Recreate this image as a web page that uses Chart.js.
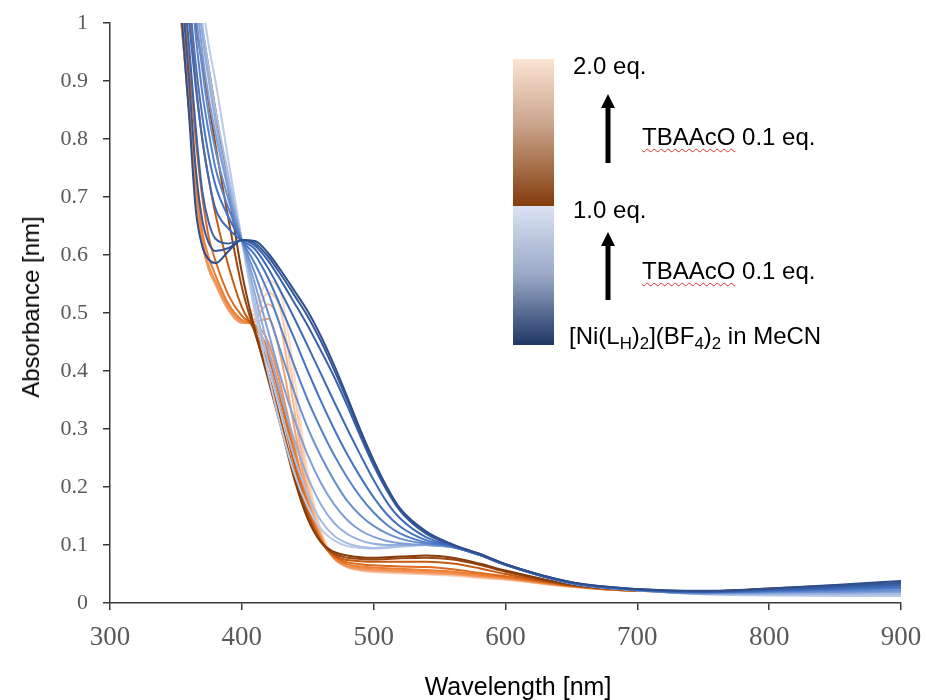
<!DOCTYPE html>
<html>
<head>
<meta charset="utf-8">
<script src="https://cdn.jsdelivr.net/npm/chart.js@4.4.0/dist/chart.umd.min.js"></script>
<style>
  body { margin: 0; background: #fff; }
  #wrap { position: relative; width: 926px; height: 700px; }
  #wrap canvas { position: absolute; left: 0; top: 0; }
  .bar { position: absolute; left: 513px; width: 41px; }
  .key { position: absolute; font-family: "Liberation Sans", Arial, sans-serif; font-size: 24px;
         color: #000; white-space: nowrap; line-height: 1; transform: translateY(-50%); }
  .spell { text-decoration: underline wavy #e03030; text-decoration-thickness: 1px; text-underline-offset: 3px; }
  sub { font-size: 0.7em; vertical-align: -0.3em; line-height: 0; }
  .axis-title { position: absolute; font-family: "Liberation Sans", Arial, sans-serif; font-size: 25px;
                color: #000; white-space: nowrap; line-height: 1; }
  #xTitle { left: 518px; top: 686px; transform: translate(-50%, -50%); }
  #yTitle { left: 31px; top: 307px; font-size: 24px; transform: translate(-50%, -50%) rotate(-90deg); }
  svg.arrows { position: absolute; left: 0; top: 0; }
</style>
</head>
<body>
<div id="wrap">
  <canvas id="uvChart" width="926" height="700"></canvas>

  <div class="axis-title" id="xTitle">Wavelength [nm]</div>
  <div class="axis-title" id="yTitle">Absorbance [nm]</div>

  <div class="bar" style="top:59px;height:147px;background:linear-gradient(to bottom,#fbe3d3,#c9a48a 45%,#843c0c);"></div>
  <div class="bar" style="top:206px;height:139px;background:linear-gradient(to bottom,#dae3f3,#9aa8c6 50%,#1f3864);"></div>

  <div class="key" style="left:573px;top:66px;">2.0 eq.</div>
  <div class="key" style="left:642px;top:137px;"><span class="spell">TBAAcO</span> 0.1 eq.</div>
  <div class="key" style="left:573px;top:210px;">1.0 eq.</div>
  <div class="key" style="left:642px;top:271px;"><span class="spell">TBAAcO</span> 0.1 eq.</div>
  <div class="key" style="left:569px;top:336px;">[Ni(L<sub>H</sub>)<sub>2</sub>](BF<sub>4</sub>)<sub>2</sub> in MeCN</div>

  <svg class="arrows" width="926" height="700">
    <polygon points="605.5,163 610.5,163 610.5,108 615,108 608,94 601,108 605.5,108" fill="#000"/>
    <polygon points="605.5,300 610.5,300 610.5,246 615,246 608,232 601,246 605.5,246" fill="#000"/>
  </svg>
</div>

<script>
// wavelength grid (nm)
var wavelengths = [340, 350, 355, 360, 365, 370, 375, 380, 390, 400, 410, 420, 430, 440, 450, 460,
                   470, 480, 490, 500, 510, 520, 540, 560, 580, 600, 650, 700, 750, 800, 850, 900];

var xTicks = [300, 400, 500, 600, 700, 800, 900];
var yTicks = [0, 0.1, 0.2, 0.3, 0.4, 0.5, 0.6, 0.7, 0.8, 0.9, 1];

// [Ni(LH)2](BF4)2 + 0.0 ... 1.0 eq. TBAAcO
var blue00 = [1.6, 1.12, 0.99, 0.84, 0.68, 0.615, 0.592, 0.586, 0.607, 0.626, 0.624, 0.603, 0.572, 0.538, 0.503, 0.46, 0.41, 0.355, 0.298, 0.246, 0.2, 0.163, 0.123, 0.101, 0.085, 0.067, 0.036, 0.024, 0.021, 0.025, 0.031, 0.038];
var blue01 = [1.65, 1.17, 1.04, 0.9, 0.75, 0.66, 0.62, 0.607, 0.612, 0.626, 0.62, 0.597, 0.565, 0.53, 0.494, 0.451, 0.402, 0.349, 0.293, 0.242, 0.197, 0.161, 0.121, 0.1, 0.085, 0.067, 0.036, 0.024, 0.02, 0.024, 0.029, 0.035];
var blue02 = [1.7, 1.22, 1.08, 0.96, 0.82, 0.71, 0.655, 0.628, 0.62, 0.626, 0.616, 0.59, 0.555, 0.517, 0.478, 0.435, 0.39, 0.34, 0.287, 0.237, 0.194, 0.159, 0.119, 0.099, 0.084, 0.066, 0.035, 0.023, 0.02, 0.023, 0.027, 0.032];
var blue03 = [1.75, 1.27, 1.13, 1.0, 0.89, 0.8, 0.73, 0.68, 0.645, 0.625, 0.61, 0.577, 0.535, 0.49, 0.443, 0.395, 0.347, 0.3, 0.255, 0.212, 0.174, 0.146, 0.113, 0.098, 0.084, 0.066, 0.035, 0.023, 0.019, 0.022, 0.025, 0.03];
var blue04 = [1.8, 1.32, 1.18, 1.05, 0.93, 0.84, 0.77, 0.72, 0.665, 0.625, 0.6, 0.56, 0.508, 0.455, 0.4, 0.348, 0.3, 0.256, 0.217, 0.182, 0.153, 0.132, 0.108, 0.097, 0.083, 0.066, 0.035, 0.023, 0.019, 0.021, 0.024, 0.027];
var blue05 = [1.85, 1.37, 1.23, 1.1, 0.98, 0.88, 0.81, 0.75, 0.68, 0.625, 0.585, 0.535, 0.472, 0.408, 0.35, 0.3, 0.255, 0.216, 0.183, 0.156, 0.135, 0.12, 0.104, 0.097, 0.083, 0.066, 0.034, 0.022, 0.018, 0.02, 0.022, 0.025];
var blue06 = [1.9, 1.42, 1.28, 1.15, 1.02, 0.92, 0.84, 0.78, 0.695, 0.625, 0.568, 0.5, 0.43, 0.362, 0.302, 0.253, 0.211, 0.176, 0.151, 0.133, 0.12, 0.111, 0.102, 0.097, 0.083, 0.066, 0.034, 0.022, 0.017, 0.019, 0.02, 0.022];
var blue07 = [1.95, 1.47, 1.33, 1.2, 1.06, 0.95, 0.87, 0.81, 0.71, 0.625, 0.55, 0.468, 0.385, 0.315, 0.255, 0.207, 0.17, 0.143, 0.125, 0.114, 0.107, 0.103, 0.1, 0.096, 0.083, 0.066, 0.034, 0.022, 0.017, 0.018, 0.019, 0.02];
var blue08 = [2.0, 1.5, 1.36, 1.23, 1.09, 0.98, 0.9, 0.83, 0.72, 0.625, 0.532, 0.44, 0.355, 0.28, 0.217, 0.17, 0.138, 0.119, 0.108, 0.102, 0.1, 0.1, 0.1, 0.096, 0.083, 0.066, 0.034, 0.022, 0.016, 0.016, 0.017, 0.018];
var blue09 = [2.05, 1.54, 1.4, 1.27, 1.12, 1.0, 0.92, 0.85, 0.735, 0.625, 0.515, 0.415, 0.328, 0.25, 0.187, 0.142, 0.116, 0.103, 0.097, 0.095, 0.096, 0.098, 0.1, 0.096, 0.083, 0.066, 0.034, 0.022, 0.016, 0.015, 0.015, 0.015];
var blue10 = [2.1, 1.57, 1.43, 1.3, 1.15, 1.04, 0.96, 0.9, 0.76, 0.625, 0.5, 0.395, 0.3, 0.222, 0.166, 0.128, 0.108, 0.098, 0.095, 0.094, 0.095, 0.097, 0.1, 0.096, 0.083, 0.066, 0.034, 0.022, 0.015, 0.013, 0.012, 0.012];

// further additions 1.1 ... 2.0 eq. TBAAcO
var orange11 = [1.9, 1.4, 1.27, 1.15, 1.06, 0.99, 0.92, 0.85, 0.71, 0.57, 0.47, 0.385, 0.3, 0.212, 0.145, 0.105, 0.088, 0.082, 0.079, 0.078, 0.079, 0.08, 0.082, 0.078, 0.068, 0.056, 0.032, 0.022, 0.02, 0.025, 0.03, 0.034];
var orange12 = [1.85, 1.36, 1.23, 1.1, 1.0, 0.93, 0.86, 0.79, 0.66, 0.545, 0.465, 0.395, 0.31, 0.222, 0.15, 0.106, 0.085, 0.078, 0.076, 0.075, 0.076, 0.077, 0.078, 0.075, 0.066, 0.054, 0.031, 0.022, 0.02, 0.024, 0.029, 0.033];
var orange13 = [1.75, 1.28, 1.14, 1.02, 0.9, 0.8, 0.73, 0.67, 0.58, 0.51, 0.468, 0.412, 0.33, 0.237, 0.157, 0.106, 0.082, 0.074, 0.072, 0.071, 0.071, 0.071, 0.071, 0.068, 0.06, 0.05, 0.03, 0.021, 0.02, 0.024, 0.028, 0.032];
var orange14 = [1.65, 1.18, 1.05, 0.93, 0.8, 0.7, 0.63, 0.59, 0.53, 0.495, 0.475, 0.425, 0.345, 0.25, 0.165, 0.108, 0.08, 0.07, 0.067, 0.065, 0.064, 0.063, 0.062, 0.058, 0.052, 0.046, 0.03, 0.021, 0.02, 0.023, 0.027, 0.031];
var orange15 = [1.55, 1.12, 1.0, 0.87, 0.73, 0.64, 0.595, 0.565, 0.515, 0.488, 0.478, 0.435, 0.355, 0.26, 0.17, 0.11, 0.078, 0.067, 0.063, 0.061, 0.06, 0.059, 0.057, 0.054, 0.049, 0.044, 0.029, 0.021, 0.02, 0.023, 0.026, 0.03];
var orange16 = [1.5, 1.1, 0.98, 0.85, 0.71, 0.625, 0.58, 0.555, 0.51, 0.485, 0.48, 0.45, 0.37, 0.27, 0.175, 0.112, 0.077, 0.064, 0.06, 0.058, 0.057, 0.056, 0.054, 0.051, 0.047, 0.043, 0.029, 0.021, 0.02, 0.023, 0.026, 0.029];
var orange17 = [1.5, 1.1, 0.98, 0.85, 0.71, 0.62, 0.575, 0.55, 0.505, 0.483, 0.485, 0.49, 0.42, 0.3, 0.185, 0.115, 0.077, 0.063, 0.058, 0.056, 0.055, 0.054, 0.052, 0.05, 0.046, 0.042, 0.029, 0.021, 0.02, 0.022, 0.025, 0.028];
var orange18 = [1.5, 1.1, 0.98, 0.85, 0.71, 0.62, 0.575, 0.55, 0.505, 0.483, 0.49, 0.515, 0.47, 0.33, 0.195, 0.118, 0.077, 0.062, 0.057, 0.055, 0.054, 0.053, 0.051, 0.049, 0.045, 0.041, 0.028, 0.021, 0.02, 0.022, 0.025, 0.028];
var orange19 = [1.5, 1.1, 0.98, 0.85, 0.71, 0.62, 0.575, 0.55, 0.505, 0.485, 0.5, 0.535, 0.5, 0.36, 0.21, 0.12, 0.077, 0.062, 0.056, 0.054, 0.053, 0.052, 0.05, 0.048, 0.044, 0.041, 0.028, 0.021, 0.02, 0.022, 0.024, 0.027];
var orange20 = [1.5, 1.1, 0.98, 0.85, 0.71, 0.62, 0.575, 0.55, 0.505, 0.487, 0.51, 0.555, 0.53, 0.39, 0.225, 0.125, 0.078, 0.062, 0.056, 0.053, 0.052, 0.051, 0.049, 0.047, 0.043, 0.04, 0.028, 0.021, 0.02, 0.022, 0.024, 0.027];

var blueSeries = [blue00, blue01, blue02, blue03, blue04, blue05, blue06, blue07, blue08, blue09, blue10];
var blueColors = ['#2f4e8c', '#34589a', '#3a62a8', '#3f6ab8', '#4472c4', '#5580ca', '#6a8fd0', '#7f9ed6', '#94aedc', '#a8bee3', '#bacbe9'];
var orangeSeries = [orange11, orange12, orange13, orange14, orange15, orange16, orange17, orange18, orange19, orange20];
var orangeColors = ['#843c0c', '#9e4610', '#c55a11', '#dd6a1f', '#ed7d31', '#f08f50', '#f3a270', '#f5b690', '#f8cbad', '#fadcc8'];

function toPoints(values) {
    return values.map(function (v, i) { return { x: wavelengths[i], y: v }; });
}

var datasets = [];
// blue first so it is drawn on top
blueSeries.forEach(function (s, i) {
    datasets.push({ data: toPoints(s), borderColor: blueColors[i], borderWidth: 2 });
});
orangeSeries.forEach(function (s, i) {
    datasets.push({ data: toPoints(s), borderColor: orangeColors[i], borderWidth: 2 });
});

var axisColor = '#3a3a3a';
var tickFontY = { family: '"Liberation Serif", "Times New Roman", serif', size: 22 };
var tickFontX = { family: '"Liberation Serif", "Times New Roman", serif', size: 27 };

// keep the plot box fixed: no extra room for overflowing tick labels
function noLabelPadding(scale) {
    scale.paddingTop = 0;
    scale.paddingBottom = 0;
    scale.paddingLeft = 0;
    scale.paddingRight = 0;
}

var ctx = document.getElementById('uvChart').getContext('2d');
var uvChart = new Chart(ctx, {
    type: 'line',
    data: { datasets: datasets },
    options: {
        responsive: false,
        animation: false,
        layout: { padding: { top: 23, right: 25, left: 0, bottom: 0 } },
        elements: {
            point: { radius: 0 },
            line: { cubicInterpolationMode: 'monotone', fill: false }
        },
        plugins: { legend: { display: false }, tooltip: { enabled: false } },
        scales: {
            x: {
                type: 'linear', min: 300, max: 900,
                afterBuildTicks: function (scale) { scale.ticks = xTicks.map(function (v) { return { value: v }; }); },
                afterFit: function (scale) { scale.height = 97; noLabelPadding(scale); },
                grid: { drawOnChartArea: false, drawTicks: true, tickLength: 7, color: axisColor, lineWidth: 1.5 },
                border: { color: axisColor, width: 1.5 },
                ticks: { color: '#595959', font: tickFontX, padding: 12, maxRotation: 0 }
            },
            y: {
                type: 'linear', min: 0, max: 1,
                afterBuildTicks: function (scale) { scale.ticks = yTicks.map(function (v) { return { value: v }; }); },
                afterFit: function (scale) { scale.width = 110; noLabelPadding(scale); },
                grid: { drawOnChartArea: false, drawTicks: true, tickLength: 7, color: axisColor, lineWidth: 1.5 },
                border: { color: axisColor, width: 1.5 },
                ticks: { color: '#595959', font: tickFontY, padding: 15,
                         callback: function (v) { return String(Math.round(v * 10) / 10); } }
            }
        }
    }
});
</script>
</body>
</html>
